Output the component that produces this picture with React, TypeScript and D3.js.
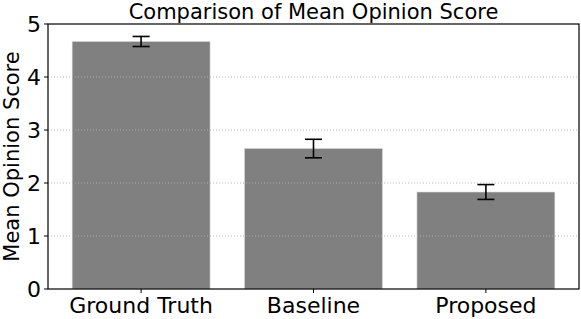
import React, { useEffect, useRef } from 'react';
import * as d3 from 'd3';

const categories = ['Ground Truth', 'Baseline', 'Proposed'];
const meanScores = [4.67, 2.65, 1.83];
const errors = [0.095, 0.175, 0.14];
const yTicks = [0, 1, 2, 3, 4, 5];

const App: React.FC = () => {
  const ref = useRef<SVGSVGElement>(null);

  useEffect(() => {
    if (!ref.current) return;
    const width = 581;
    const height = 319;
    const left = 48, right = 579, top = 24, bottom = 289;
    const font = 'DejaVu Sans, sans-serif';

    const svg = d3.select(ref.current);
    svg.selectAll('*').remove();

    // bar positions like matplotlib: centers at 0..n-1, width 0.8, 5% margins
    const x = d3.scaleLinear().domain([-0.54, 2.54]).range([left, right]);
    const y = d3.scaleLinear().domain([0, 5]).range([bottom, top]);
    const barW = x(0.8) - x(0);

    svg.append('g')
      .selectAll('rect')
      .data(meanScores)
      .join('rect')
      .attr('x', (d, i) => x(i - 0.4))
      .attr('y', d => y(d))
      .attr('width', barW)
      .attr('height', d => y(0) - y(d))
      .attr('fill', '#808080')
      .attr('stroke', '#d8d8d8')
      .attr('stroke-width', 0.6);

    // grid on top of bars
    svg.append('g')
      .selectAll('line')
      .data(yTicks.slice(1, -1))
      .join('line')
      .attr('x1', left)
      .attr('x2', right)
      .attr('y1', d => y(d))
      .attr('y2', d => y(d))
      .attr('stroke', '#b0b0b0')
      .attr('stroke-width', 0.9)
      .attr('stroke-dasharray', '1,2');

    // error bars
    const eb = svg.append('g').attr('stroke', '#000').attr('stroke-width', 1.6);
    meanScores.forEach((m, i) => {
      const cx = x(i);
      const e = errors[i];
      eb.append('line').attr('x1', cx).attr('x2', cx).attr('y1', y(m - e)).attr('y2', y(m + e));
      eb.append('line').attr('x1', cx - 8.5).attr('x2', cx + 8.5).attr('y1', y(m - e)).attr('y2', y(m - e));
      eb.append('line').attr('x1', cx - 8.5).attr('x2', cx + 8.5).attr('y1', y(m + e)).attr('y2', y(m + e));
    });

    // frame
    svg.append('rect')
      .attr('x', left).attr('y', top)
      .attr('width', right - left).attr('height', bottom - top)
      .attr('fill', 'none').attr('stroke', '#000').attr('stroke-width', 1.2);

    // y ticks
    const yt = svg.append('g');
    yTicks.forEach(t => {
      yt.append('line').attr('x1', left - 4).attr('x2', left).attr('y1', y(t)).attr('y2', y(t))
        .attr('stroke', '#000').attr('stroke-width', 1);
      yt.append('text').attr('x', left - 7).attr('y', y(t)).attr('dy', '0.36em')
        .attr('text-anchor', 'end').attr('font-family', font).attr('font-size', 22)
        .text(String(t));
    });

    // x ticks
    const xt = svg.append('g');
    categories.forEach((c, i) => {
      xt.append('line').attr('x1', x(i)).attr('x2', x(i)).attr('y1', bottom).attr('y2', bottom + 4)
        .attr('stroke', '#000').attr('stroke-width', 1);
      xt.append('text').attr('x', x(i)).attr('y', 313)
        .attr('text-anchor', 'middle').attr('font-family', font).attr('font-size', 22)
        .text(c);
    });

    svg.append('text')
      .attr('x', (left + right) / 2).attr('y', 19)
      .attr('text-anchor', 'middle').attr('font-family', font).attr('font-size', 21)
      .text('Comparison of Mean Opinion Score');

    svg.append('text')
      .attr('transform', `translate(19,${(top + bottom) / 2}) rotate(-90)`)
      .attr('text-anchor', 'middle').attr('font-family', font).attr('font-size', 21)
      .text('Mean Opinion Score');

    svg.attr('width', width).attr('height', height);
  }, []);

  return (
    <div style={{ position: 'absolute', left: 0, top: 0 }}>
      <svg ref={ref} style={{ display: 'block', background: '#fff' }}></svg>
    </div>
  );
};

export default App;
